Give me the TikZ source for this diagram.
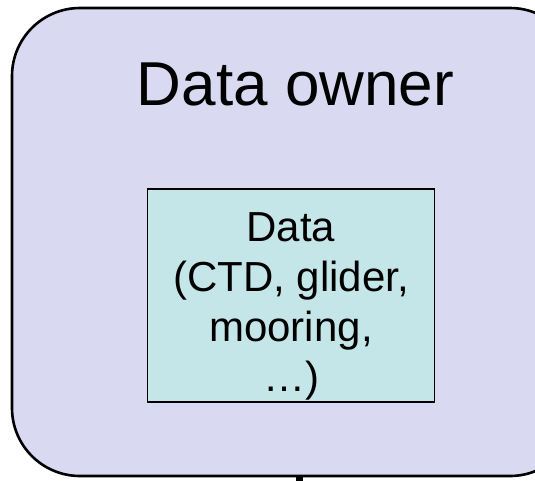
\documentclass[tikz,border=0pt]{standalone}
\usepackage{fontspec}
\setmainfont{Liberation Sans}
\definecolor{outerfill}{RGB}{217,217,241}
\definecolor{innerfill}{RGB}{196,230,232}
\tikzset{
  ownerbox/.style={draw=black, line width=2.6pt, fill=outerfill, rounded corners=68pt, inner sep=0pt},
  databox/.style={draw=black, line width=1.6pt, fill=innerfill, inner sep=0pt},
  titletext/.style={font=\fontsize{62}{70}\selectfont, inner sep=0pt},
  datatext/.style={font=\fontsize{42}{50}\selectfont, align=center, inner sep=0pt},
  stub/.style={draw=black, line width=7pt}
}
\begin{document}
\begin{tikzpicture}[x=1pt,y=-1pt]
\useasboundingbox (0,0) rectangle (535,480);
\clip (0,0) rectangle (535,480);
\node[ownerbox, minimum width=566pt, minimum height=468pt] (owner) at (295,242) {};
\node[titletext, anchor=base] (title) at (295.5,105) {Data owner};
\node[databox, minimum width=287pt, minimum height=213pt] (data) at (291,295.5) {};
\node[datatext, anchor=north] (datatext) at (291,212) {Data\\(CTD, glider,\\mooring,\\…)};
\coordinate (below) at (299,490);
\draw[stub] ([xshift=4pt]owner.south) -- (below);
\end{tikzpicture}
\end{document}
